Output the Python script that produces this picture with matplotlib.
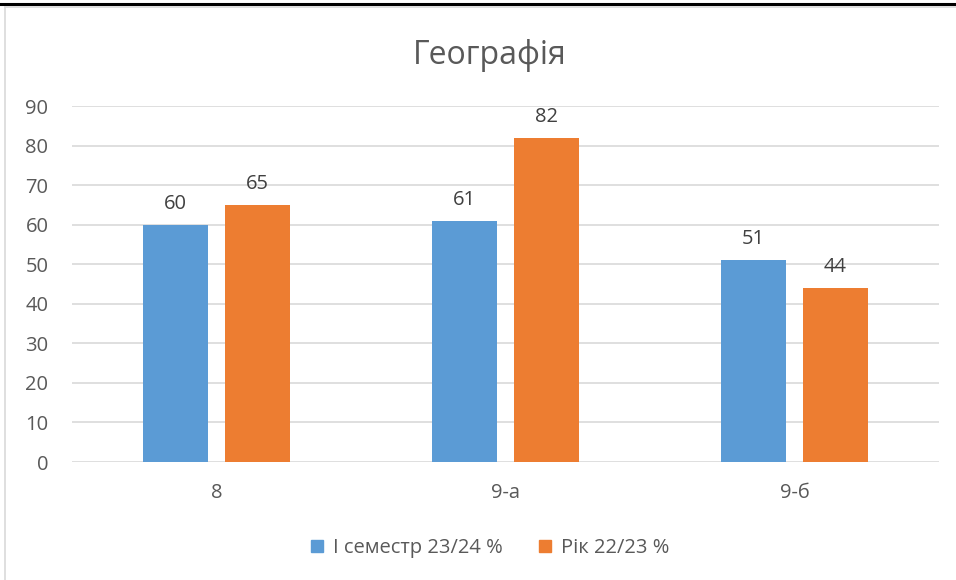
import matplotlib
matplotlib.use("Agg")
import matplotlib.pyplot as plt
from matplotlib.lines import Line2D
from matplotlib.patches import Patch
import numpy as np

categories = ["8", "9-а", "9-б"]
series_names = ["І семестр 23/24 %", "Рік 22/23 %"]
sem_values = [60, 61, 51]
year_values = [65, 82, 44]
yticks = [0, 10, 20, 30, 40, 50, 60, 70, 80, 90]
title = "Географія"

blue = "#5B9BD5"
orange = "#ED7D31"
txt = "#595959"
plt.rcParams['font.family'] = ['Open Sans', 'DejaVu Sans']

fig = plt.figure(figsize=(9.56, 5.8), dpi=100)
ax = fig.add_axes([72/956, 1-462/580, (939-72)/956, (462-106)/580])

x = np.arange(len(categories))
w = 0.225
off = 0.142
b1 = ax.bar(x - off, sem_values, w, color=blue, zorder=3)
b2 = ax.bar(x + off, year_values, w, color=orange, zorder=3)
for bars, vals in ((b1, sem_values), (b2, year_values)):
    for r, v in zip(bars, vals):
        ax.annotate(str(v), (r.get_x() + r.get_width()/2, v), xytext=(0, 8),
                    textcoords="offset points", ha="center", va="bottom",
                    fontsize=14.5, color="#404040")

ax.set_xlim(-0.5, len(categories) - 0.5)
ax.set_ylim(0, 90)
ax.set_yticks(yticks)
ax.set_xticks(x)
ax.set_xticklabels(categories)
ax.tick_params(axis="both", length=0, labelsize=14.5, labelcolor=txt)
ax.tick_params(axis="y", pad=17)
ax.tick_params(axis="x", pad=15)
for s in ax.spines.values():
    s.set_visible(False)
ax.yaxis.grid(True, color="#D9D9D9", linewidth=1.2, zorder=0)
ax.set_axisbelow(True)

fig.text(490/956, 1-55/580, title, ha="center", va="center", fontsize=23, color=txt)

handles = [Patch(color=blue), Patch(color=orange)]
fig.legend(handles, series_names, loc="center", bbox_to_anchor=(490/956, 1-548/580),
           ncol=2, frameon=False, fontsize=14.5, labelcolor=txt,
           handlelength=0.6, handleheight=0.6, handletextpad=0.5, columnspacing=1.8)

# page decorations
fig.add_artist(Line2D([0, 1], [1-3.5/580, 1-3.5/580], color="black", linewidth=2.2, transform=fig.transFigure))
fig.add_artist(Line2D([4.5/956, 4.5/956], [0, 1-7/580], color="#D9D9D9", linewidth=1.2, transform=fig.transFigure))
fig.add_artist(Line2D([4.5/956, 1], [1-7/580, 1-7/580], color="#D9D9D9", linewidth=1.2, transform=fig.transFigure))

fig.savefig("out.png", dpi=100)
